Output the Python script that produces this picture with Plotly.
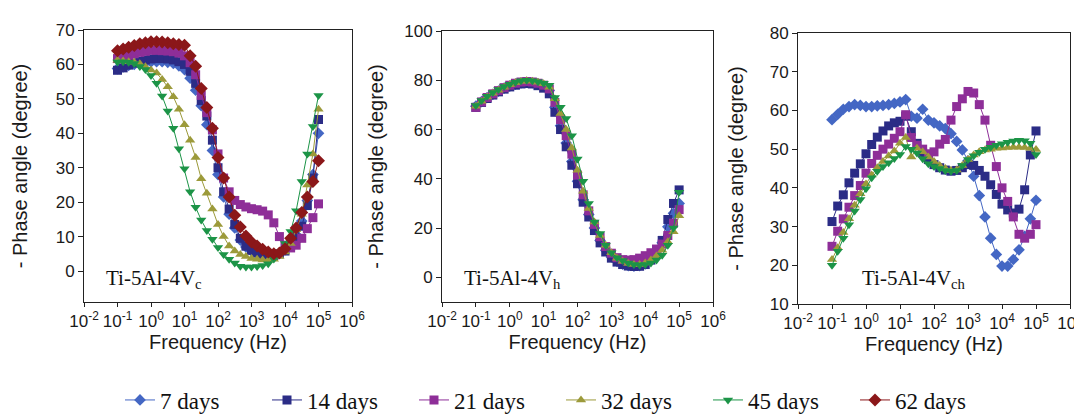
import plotly.graph_objects as go

freq = [0.1, 0.147, 0.215, 0.316, 0.464, 0.681, 1, 1.47, 2.15, 3.16, 4.64, 6.81,
        10, 14.7, 21.5, 31.6, 46.4, 68.1, 100, 147, 215, 316, 464, 681,
        1000, 1470, 2150, 3160, 4640, 6810, 10000, 14700, 21500, 31600, 46400, 68100, 100000]

x_tick_vals = [0.01, 0.1, 1, 10, 100, 1000, 10000, 100000, 1000000]
x_tick_text = ["10<sup>-2</sup>", "10<sup>-1</sup>", "10<sup>0</sup>", "10<sup>1</sup>", "10<sup>2</sup>",
               "10<sup>3</sup>", "10<sup>4</sup>", "10<sup>5</sup>", "10<sup>6</sup>"]

series_names = ["7 days", "14 days", "21 days", "32 days", "45 days", "62 days"]
colors = ["#4467C4", "#2B2C86", "#8E2E98", "#9C9A3A", "#1C9447", "#8B1719"]
symbols = ["diamond", "square", "square", "triangle-up", "triangle-down", "diamond"]
sizes = [9, 9, 9, 9, 9, 10]

# Panel 1: Ti-5Al-4V_c
c_7 = [58.8, 59.3, 59.7, 60, 60.3, 60.5, 60.7, 60.8, 60.8, 60.6, 60.3, 59.6, 58.5, 56, 52.5, 48, 42.5, 35, 28,
       21.5, 16.5, 12.5, 9, 7, 5.8, 5, 4.6, 4.5, 4.7, 5.2, 6.2, 8, 10.5, 14.5, 20.5, 28, 40]
c_14 = [58.3, 59, 59.8, 60.4, 60.9, 61.3, 61.6, 61.7, 61.7, 61.6, 61.3, 60.8, 60, 58, 54.5, 49.5, 45, 38, 30,
        23, 18, 13.5, 9.5, 7.2, 6, 5.2, 4.6, 4.4, 4.5, 5, 5.8, 7.3, 9.5, 13, 19, 27, 44]
c_21 = [61.7, 62.2, 62.7, 63.1, 63.5, 63.8, 64.1, 64.1, 64, 63.9, 63.7, 63.3, 62.5, 60.5, 57, 51, 46, 41, 34,
        27, 23, 20.5, 19.3, 18.6, 18.1, 17.8, 17.4, 16.3, 14, 10, 7.5, 6.7, 7.5, 9.5, 12.3, 15.5, 19.5]
c_32 = [61.2, 61, 60.8, 60.6, 60.2, 59.3, 58.4, 57.5, 55.6, 53.5, 50.6, 47, 42.5, 38, 33, 26.8, 22.6, 18, 13.5,
        10, 7.3, 5.8, 4.8, 4.2, 3.6, 3.4, 3.2, 3.1, 3.4, 4.2, 5.5, 8, 12, 16.5, 25, 34, 47]
c_45 = [60.7, 60.8, 60.6, 60.3, 59.4, 58.5, 56.8, 54.5, 50.8, 46.5, 41.5, 35.5, 29.7, 23, 18.5, 14.8, 11.8, 9.2, 6.8,
        4.8, 3.4, 2.3, 1.4, 1.2, 1.2, 1.3, 1.6, 2.1, 3.5, 5.5, 8, 11.5, 17.5, 26, 34, 42, 51]
c_62 = [64, 64.5, 65, 65.5, 66, 66.3, 66.6, 66.6, 66.5, 66.3, 66, 65.8, 65.6, 62.5, 59.5, 53, 47.5, 41.5, 33,
        27, 21.5, 16.2, 12.8, 10.2, 8.4, 7.3, 6.3, 5.5, 5.0, 5.2, 6.5, 9.5, 12.5, 17, 21.5, 26, 32]

# Panel 2: Ti-5Al-4V_h
h_7 = [69.5, 71.3, 73, 74.3, 75.6, 76.8, 77.6, 78.4, 78.9, 79.2, 79, 78.5, 77.5, 75.8, 69, 61.5, 54.5, 47, 39,
       31.5, 25.5, 20, 15, 11, 8.3, 6.5, 5.4, 4.8, 4.6, 4.8, 5.5, 7.2, 9.8, 14, 20.5, 26, 30]
h_14 = [69, 71, 72.6, 74, 75.3, 76.4, 77.3, 78, 78.5, 78.7, 78.5, 77.8, 76.8, 74.5, 67, 60, 53, 45.5, 38,
        30.5, 24.5, 19, 14, 10.3, 7.8, 6.2, 5.2, 4.6, 4.4, 4.5, 5.2, 7, 10, 15, 23.5, 30, 35.5]
h_21 = [69, 71.2, 73, 74.5, 75.8, 77, 78, 78.8, 79.3, 79.5, 79.3, 78.8, 78, 76.5, 71, 64, 57.5, 50, 41.5,
        33.5, 27, 21.5, 16.5, 12.5, 9.8, 8, 7.2, 7, 7.2, 7.8, 8.8, 10, 11.5, 13.5, 17, 22, 27.5]
h_32 = [69.5, 71.5, 73.2, 74.7, 76, 77.2, 78.2, 79, 79.5, 79.8, 79.6, 79.2, 78.6, 77.2, 72.5, 66.5, 60, 52.5, 43.5,
        35, 28, 22.5, 17, 13, 10, 7.8, 6.5, 5.6, 5.2, 5.2, 5.8, 7, 8.7, 11, 14.5, 18.5, 25]
h_45 = [69.8, 71.8, 73.5, 75, 76.3, 77.5, 78.4, 79.2, 79.8, 80, 79.8, 79.4, 78.8, 78, 73, 69, 64.5, 57.5, 48,
        39, 30, 22.5, 17.8, 13, 10, 8, 6.8, 5.8, 5.2, 5, 5.2, 5.8, 7, 9, 13, 20, 34.5]

# Panel 3: Ti-5Al-4V_ch
ch_7 = [57.6, 59, 60.3, 61, 61.5, 61.3, 61, 61, 61.2, 61.3, 61.5, 61.8, 62.2, 62.8, 58.5, 58, 60.3, 57.5, 56.8,
        56, 55.3, 54, 52, 49.8, 47, 43, 38, 32.5, 27, 22.8, 19.8, 19.8, 21.5, 24, 27.5, 32, 36.8]
ch_14 = [31.3, 35.3, 38.2, 41.3, 43.8, 46.2, 48.8, 51.2, 53.1, 54.7, 56, 56.8, 57.2, 58.5, 54.5, 51.5, 49, 47.3, 46,
         45.2, 44.6, 44.3, 44.5, 45.2, 46, 45.8, 44.5, 43, 40.8, 38.3, 35.8, 34.3, 33.5, 34.5, 39.5, 48.5, 54.7]
ch_21 = [24.9, 28.8, 32, 35, 38, 40.6, 43.8, 46.3, 48.4, 50, 51.3, 52.8, 54.5, 58.9, 53, 51, 50, 48.8, 49.3,
         51.3, 52.5, 57.5, 61, 63, 64.9, 64.5, 61.5, 57.5, 51, 45.5, 40, 36.5, 32.5, 28, 27, 28, 30.5]
ch_32 = [21.5, 24.5, 28.5, 32, 35.5, 38.5, 41, 43.3, 45.2, 46.8, 48.2, 49.5, 51.5, 53, 48, 50.2, 49.3, 48, 46.8,
         45.8, 45, 44.5, 44.6, 45.8, 47.3, 48.5, 49.3, 49.8, 50, 50.2, 50.3, 50.4, 50.5, 50.5, 50.4, 50.2, 49.9]
ch_45 = [20, 23.6, 27, 30.5, 34, 37, 39.8, 42.6, 44.3, 45.5, 46.5, 47.6, 48.6, 50.7, 50, 49, 47.5, 46.2, 45.5,
         45, 44.5, 44.3, 44.5, 45.8, 47.3, 48.3, 49.2, 50, 50.5, 51, 51.4, 51.8, 52.1, 52.3, 52.2, 51.5, 48.6]

panels = [
    [c_7, c_14, c_21, c_32, c_45, c_62],
    [h_7, h_14, h_21, h_32, h_45, None],
    [ch_7, ch_14, ch_21, ch_32, ch_45, None],
]
panel_labels = ["Ti-5Al-4V<sub>c</sub>", "Ti-5Al-4V<sub>h</sub>", "Ti-5Al-4V<sub>ch</sub>"]
y_ranges = [[-9, 70], [-10, 100], [10, 80]]
y_dticks = [10, 20, 10]

W, H = 1082, 416
x_dom_px = [(76, 344), (434, 705), (790, 1062)]
y_dom_px = [(22, 294), (23, 294), (25, 296)]
label_x_px = [96, 454, 852]
y_title_standoff = [22, 15, 20]

fig = go.Figure()

for p, data in enumerate(panels):
    ax = "" if p == 0 else str(p + 1)
    for s, vals in enumerate(data):
        if vals is None:
            continue
        fig.add_trace(go.Scatter(
            x=freq, y=vals, mode="lines+markers",
            name=series_names[s], legendgroup=series_names[s],
            showlegend=(p == 0),
            line=dict(color=colors[s], width=1),
            marker=dict(symbol=symbols[s], size=sizes[s], color=colors[s]),
            xaxis="x" + ax, yaxis="y" + ax,
        ))

tick_font = dict(family="Liberation Sans, Arial, sans-serif", size=17, color="#1a1a1a")
title_font = dict(family="Liberation Sans, Arial, sans-serif", size=20, color="#1a1a1a")

layout = dict(
    width=W, height=H,
    paper_bgcolor="white", plot_bgcolor="white",
    margin=dict(l=0, r=0, t=0, b=0),
    showlegend=True,
    legend=dict(
        orientation="h", x=553 / W, xanchor="center", y=1 - 392 / H, yanchor="middle",
        font=dict(family="Liberation Serif, Times New Roman, serif", size=23, color="#111"),
        entrywidth=102, itemsizing="trace",
    ),
    annotations=[],
)

for p in range(3):
    ax = "" if p == 0 else str(p + 1)
    x0, x1 = x_dom_px[p]
    y0, y1 = y_dom_px[p]
    layout["xaxis" + ax] = dict(
        type="log", range=[-2, 6], tickmode="array", tickvals=x_tick_vals, ticktext=x_tick_text,
        tickangle=0,
        domain=[x0 / W, x1 / W], anchor="y" + ax,
        showgrid=False, zeroline=False, showline=True, linecolor="#222", linewidth=1,
        mirror=True, ticks="outside", ticklen=4, tickcolor="#222",
        tickfont=tick_font,
        title=dict(text="Frequency (Hz)", font=title_font, standoff=0),
        automargin=False,
    )
    layout["yaxis" + ax] = dict(
        range=y_ranges[p], dtick=y_dticks[p], tick0=0,
        domain=[1 - y1 / H, 1 - y0 / H], anchor="x" + ax,
        showgrid=False, zeroline=False, showline=True, linecolor="#222", linewidth=1,
        mirror=True, ticks="outside", ticklen=5, tickcolor="#222",
        tickfont=tick_font,
        title=dict(text="- Phase angle (degree)", font=title_font, standoff=y_title_standoff[p]),
        automargin=False,
    )
    layout["annotations"].append(dict(
        text=panel_labels[p], xref="paper", yref="paper",
        x=label_x_px[p] / W, y=1 - 271 / H, xanchor="left", yanchor="middle",
        showarrow=False,
        font=dict(family="Liberation Serif, Times New Roman, serif", size=21, color="#111"),
    ))

fig.update_layout(**layout)
fig.write_html("out.html")
